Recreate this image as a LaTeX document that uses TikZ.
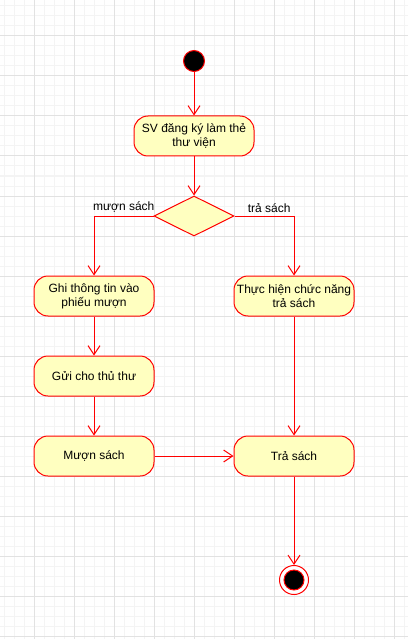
\documentclass[tikz,border=0pt]{standalone}
\usepackage{fontspec}
\setmainfont{Liberation Sans}
\usetikzlibrary{arrows.meta,shapes.geometric,positioning}
\definecolor{umlred}{HTML}{FF0000}
\definecolor{umlfill}{HTML}{FFFFC0}
\definecolor{gridminor}{HTML}{F4F4F4}
\definecolor{gridmajor}{HTML}{E2E2E2}
\begin{document}
\begin{tikzpicture}[x=1pt,y=-1pt,
  action/.style={draw=umlred,fill=umlfill,line width=1pt,rounded corners=14pt,
    minimum width=120pt,minimum height=40pt,inner sep=0pt,align=center,
    font=\fontsize{12}{14}\selectfont},
  choice/.style={diamond,draw=umlred,fill=umlfill,line width=1pt,
    minimum width=80pt,minimum height=40pt,inner sep=0pt},
  flow/.style={draw=umlred,line width=1pt,-{Straight Barb[length=9pt,width=12pt]}},
  lbl/.style={font=\fontsize{12}{14}\selectfont}]
% background grid
\fill[white] (0,0) rectangle (408,639);
\useasboundingbox (0,0) rectangle (408,639);
\foreach \x in {4,14,...,404} \draw[gridminor,line width=1pt] (\x,0) -- (\x,639);
\foreach \y in {6,16,...,636} \draw[gridminor,line width=1pt] (0,\y) -- (408,\y);
\foreach \x in {34,74,...,394} \draw[gridmajor,line width=1pt] (\x,0) -- (\x,639);
\foreach \y in {36,76,...,636} \draw[gridmajor,line width=1pt] (0,\y) -- (408,\y);

% nodes
\node[circle,fill=black,draw=umlred,line width=1pt,minimum size=21pt,inner sep=0pt] (start) at (194,61) {};
\node[action] (sv) at (194,136) {SV đăng ký làm thẻ\\thư viện};
\node[choice] (dec) at (194,216) {};
\node[action] (ghi) at (94,296) {Ghi thông tin vào\\phiếu mượn};
\node[action] (thuc) at (294,296) {Thực hiện chức năng\\trả sách};
\node[action] (gui) at (94,376) {Gửi cho thủ thư};
\node[action] (muon) at (94,456) {Mượn sách};
\node[action] (tra) at (294,456) {Trả sách};
\node[circle,draw=umlred,fill=white,line width=1pt,minimum size=29pt,inner sep=0pt] (stop) at (294,580) {};
\node[circle,draw=umlred,fill=black,line width=1pt,minimum size=20pt,inner sep=0pt] (stopdot) at (stop) {};

% flows
\draw[flow] (start) -- (sv);
\draw[flow] (sv) -- (dec);
\draw[flow] (dec.west) -| node[lbl,pos=0.25,above] {mượn sách} (ghi);
\draw[flow] (dec.east) -| node[lbl,pos=0.25,above,xshift=5pt] {trả sách} (thuc);
\draw[flow] (ghi) -- (gui);
\draw[flow] (gui) -- (muon);
\draw[flow] (muon) -- (tra);
\draw[flow] (thuc) -- (tra);
\draw[flow] (tra) -- (stop);
\end{tikzpicture}
\end{document}
